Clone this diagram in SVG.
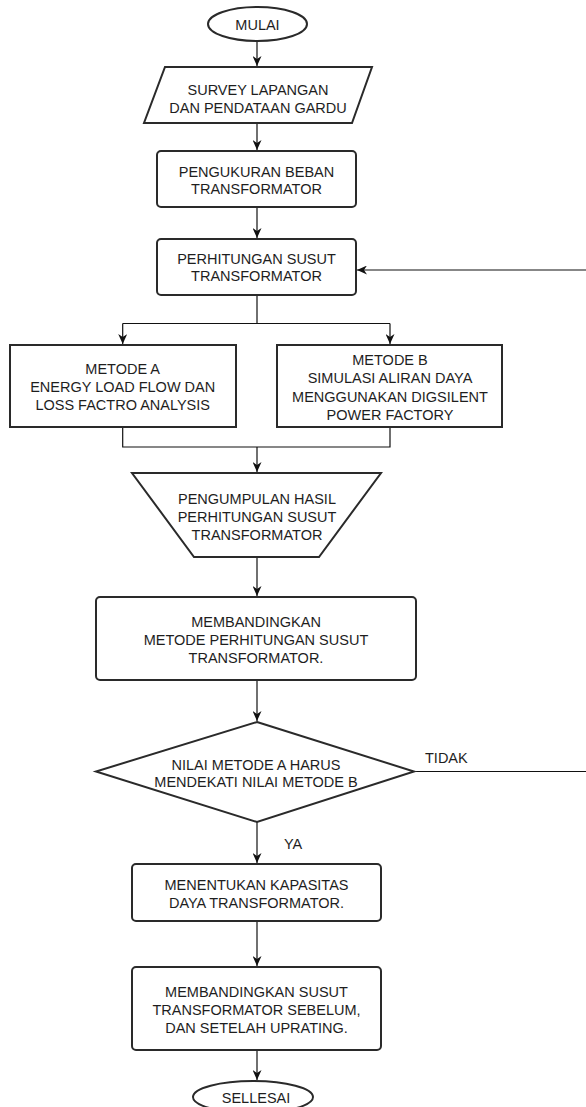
<svg xmlns="http://www.w3.org/2000/svg" width="586" height="1107" viewBox="0 0 586 1107">
<style>
.shape{fill:#fff;stroke:#2a2a2a;stroke-width:2}
.conn{fill:none;stroke:#111;stroke-width:1.2}
text{font-family:"Liberation Sans",Arial,sans-serif;font-size:14.5px;fill:#1e1e1e;text-anchor:middle}
.lbl{text-anchor:start}
</style>
<defs>
<marker id="arr" viewBox="0 0 10 9" markerWidth="10" markerHeight="9" refX="10" refY="4.5" orient="auto" markerUnits="userSpaceOnUse">
<path d="M0,0 L10,4.5 L0,9 L3,4.5 z" fill="#111"/>
</marker>
</defs>
<rect width="586" height="1107" fill="#fff"/>
<g id="connectors">
<path class="conn" d="M257,41 V66" marker-end="url(#arr)"/>
<path class="conn" d="M257,123 V150" marker-end="url(#arr)"/>
<path class="conn" d="M257,207 V238" marker-end="url(#arr)"/>
<path class="conn" d="M257,295 V323.5 M122.7,323.5 H390"/>
<path class="conn" d="M122.7,323.5 V344" marker-end="url(#arr)"/>
<path class="conn" d="M390,323.5 V344" marker-end="url(#arr)"/>
<path class="conn" d="M122.7,427 V447 H390 V427"/>
<path class="conn" d="M257,447 V472" marker-end="url(#arr)"/>
<path class="conn" d="M257,557 V596" marker-end="url(#arr)"/>
<path class="conn" d="M257,680 V721" marker-end="url(#arr)"/>
<path class="conn" d="M257,822 V863" marker-end="url(#arr)"/>
<path class="conn" d="M257,921 V966" marker-end="url(#arr)"/>
<path class="conn" d="M257,1050 V1080" marker-end="url(#arr)"/>
<path class="conn" d="M414,771.5 H586"/>
<path class="conn" d="M586,270 H357" marker-end="url(#arr)"/>
<text class="lbl" x="425" y="763">TIDAK</text>
<text class="lbl" x="284" y="849">YA</text>
</g>
<g id="mulai">
<ellipse class="shape" cx="257.5" cy="24" rx="49.5" ry="17"/>
<text x="257.5" y="29.5">MULAI</text>
</g>
<g id="survey">
<polygon class="shape" points="165,67 372,67 352,123 144,123"/>
<text x="258" y="94.5">SURVEY LAPANGAN</text>
<text x="258" y="112.5">DAN PENDATAAN GARDU</text>
</g>
<g id="pengukuran">
<rect class="shape" x="157" y="151" width="199" height="56" rx="4"/>
<text x="256.5" y="177">PENGUKURAN BEBAN</text>
<text x="256.5" y="194">TRANSFORMATOR</text>
</g>
<g id="perhitungan">
<rect class="shape" x="157" y="239" width="199" height="56" rx="4"/>
<text x="256.5" y="264">PERHITUNGAN SUSUT</text>
<text x="256.5" y="281">TRANSFORMATOR</text>
</g>
<g id="metodeA">
<rect class="shape" x="10" y="345" width="226" height="82"/>
<text x="122.7" y="373.5">METODE A</text>
<text x="122.7" y="391.5">ENERGY LOAD FLOW DAN</text>
<text x="122.7" y="409.5">LOSS FACTRO ANALYSIS</text>
</g>
<g id="metodeB">
<rect class="shape" x="277" y="345" width="225" height="82"/>
<text x="390" y="365">METODE B</text>
<text x="390" y="383.3">SIMULASI ALIRAN DAYA</text>
<text x="390" y="401.6">MENGGUNAKAN DIGSILENT</text>
<text x="390" y="419.5">POWER FACTORY</text>
</g>
<g id="pengumpulan">
<polygon class="shape" points="132,473 381,473 319,557 194,557"/>
<text x="257" y="503.5">PENGUMPULAN HASIL</text>
<text x="257" y="521.5">PERHITUNGAN SUSUT</text>
<text x="257" y="539.5">TRANSFORMATOR</text>
</g>
<g id="membandingkan">
<rect class="shape" x="96" y="597" width="320" height="83" rx="4"/>
<text x="256" y="627.3">MEMBANDINGKAN</text>
<text x="256" y="645">METODE PERHITUNGAN SUSUT</text>
<text x="256" y="662.7">TRANSFORMATOR.</text>
</g>
<g id="keputusan">
<polygon class="shape" points="257,722 414,771.5 257,822 96,771.5"/>
<text x="256" y="770">NILAI METODE A HARUS</text>
<text x="256" y="787">MENDEKATI NILAI METODE B</text>
</g>
<g id="menentukan">
<rect class="shape" x="132" y="864" width="249" height="57" rx="4"/>
<text x="256.5" y="890">MENENTUKAN KAPASITAS</text>
<text x="256.5" y="908">DAYA TRANSFORMATOR.</text>
</g>
<g id="membandingkan-susut">
<rect class="shape" x="132" y="967" width="249" height="83" rx="4"/>
<text x="256.5" y="996.7">MEMBANDINGKAN SUSUT</text>
<text x="256.5" y="1015">TRANSFORMATOR SEBELUM,</text>
<text x="256.5" y="1032.7">DAN SETELAH UPRATING.</text>
</g>
<g id="selesai">
<ellipse class="shape" cx="253" cy="1097" rx="60" ry="16"/>
<text x="256" y="1103">SELLESAI</text>
</g>
</svg>
